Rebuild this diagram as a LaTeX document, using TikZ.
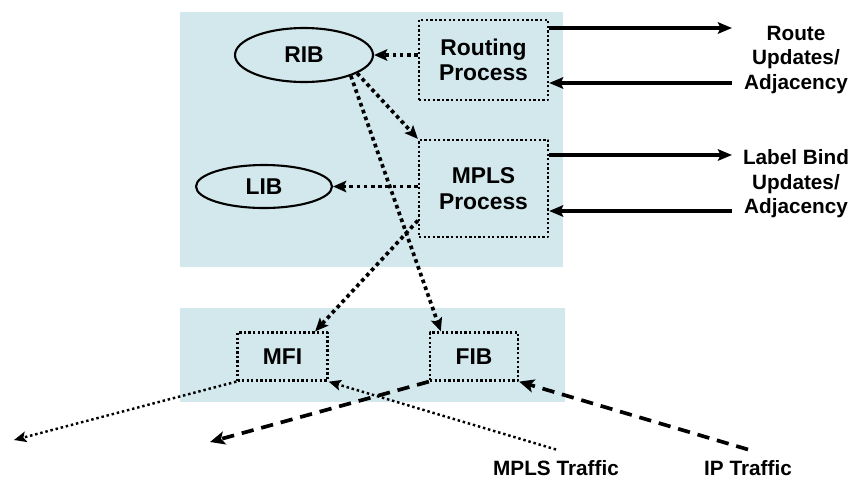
\documentclass[tikz,border=0pt]{standalone}
\usepackage{fontspec}
\setmainfont{Liberation Sans}
\usetikzlibrary{shapes.geometric,arrows.meta}
\definecolor{panelblue}{RGB}{210,232,236}
\begin{document}
\begin{tikzpicture}[x=0.02cm,y=-0.02cm,font=\bfseries, line join=round,
	procbox/.style={draw,line width=1.3pt,dash pattern=on 1.3pt off 1.3pt,align=center,inner sep=0pt,
		font=\fontsize{13}{14.5}\selectfont\bfseries},
	infobase/.style={draw,ellipse,line width=1.2pt,inner sep=0pt,font=\fontsize{13}{14.5}\selectfont\bfseries},
	dotarrow/.style={-{Stealth[length=7.5pt,width=6.5pt,inset=1.5pt]},line width=2.1pt,dash pattern=on 2.1pt off 2pt},
	thindot/.style={-{Stealth[length=7pt,width=6pt,inset=1.5pt]},line width=1.4pt,dash pattern=on 1.4pt off 1.6pt},
	dasharrow/.style={-{Stealth[length=8.5pt,width=7.5pt,inset=2pt]},line width=2.1pt,dash pattern=on 7pt off 4.5pt},
	solidarrow/.style={-{Stealth[length=8pt,width=6.5pt,inset=1.5pt]},line width=1.8pt},
	sidelabel/.style={align=center,inner sep=2pt,font=\fontsize{11.8}{14}\selectfont\bfseries}]
	\useasboundingbox (0,0) rectangle (853,481);
	% panels
	\fill[panelblue] (180,12) rectangle (563,267);
	\fill[panelblue] (180,308) rectangle (565,402);
	% control plane
	\node[procbox,minimum width=2.58cm,minimum height=1.6cm] (rout) at (483.5,60) {Routing\\Process};
	\node[procbox,minimum width=2.58cm,minimum height=1.94cm] (mpls) at (483.5,188.5) {MPLS\\Process};
	\node[infobase,minimum width=2.76cm,minimum height=1.08cm] (rib) at (304,55) {RIB};
	\node[infobase,minimum width=2.72cm,minimum height=0.86cm] (lib) at (264,186.5) {LIB};
	% data plane
	\node[procbox,minimum width=1.8cm,minimum height=0.96cm] (mfi) at (282.5,356.5) {MFI};
	\node[procbox,minimum width=1.76cm,minimum height=0.96cm] (fib) at (474,356.5) {FIB};
	% labels
	\node[sidelabel] (rulab) at (796,60) {Route\\Updates/\\Adjacency};
	\node[sidelabel] (lblab) at (796,184) {Label Bind\\Updates/\\Adjacency};
	\node[sidelabel] (mplstr) at (556,468) {MPLS Traffic};
	\node[sidelabel] (iptr) at (748,468) {IP Traffic};
	\coordinate (mfiout) at (14,440);
	\coordinate (fibout) at (210,442);
	% arrows
	\draw[dotarrow] (rout.west |- rib.east) -- (rib.east);
	\draw[dotarrow] (rib.-19) -- (mpls.north west);
	\draw[dotarrow] (rib.-24) -- ([xshift=0.24cm]fib.north west);
	\draw[dotarrow] (mpls.west |- lib.east) -- (lib.east);
	\draw[dotarrow] (mpls.206) -- ([xshift=-0.27cm]mfi.north east);
	\draw[solidarrow] (rout.east |- 0,28) -- (732,28);
	\draw[solidarrow] (732,83) -- (rout.east |- 0,83);
	\draw[solidarrow] (mpls.east |- 0,155) -- (732,155);
	\draw[solidarrow] (732,211) -- (mpls.east |- 0,211);
	\draw[thindot] (mfi.south west) -- (mfiout);
	\draw[thindot] ([yshift=4pt]mplstr.north) -- (mfi.south east);
	\draw[dasharrow] (fib.south west) -- (fibout);
	\draw[dasharrow] ([yshift=4pt]iptr.north) -- (fib.south east);
\end{tikzpicture}
\end{document}
